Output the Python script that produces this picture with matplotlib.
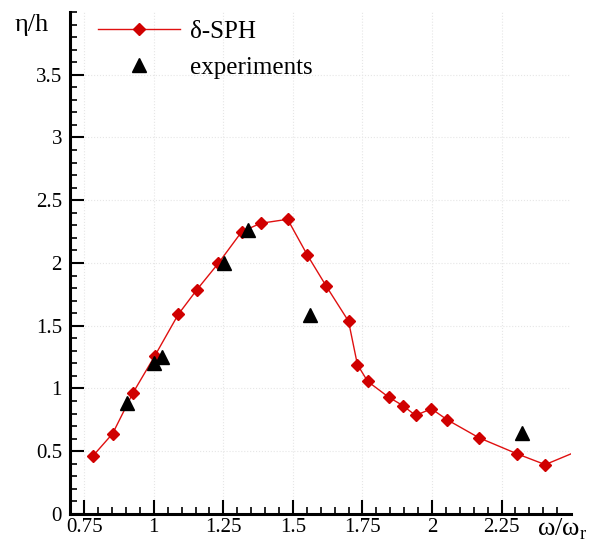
import matplotlib
matplotlib.use("Agg")
import matplotlib.pyplot as plt
import numpy as np

# delta-SPH results
sph_w = [0.78, 0.852, 0.925, 1.003, 1.088, 1.155, 1.232, 1.316, 1.384, 1.481,
         1.552, 1.62, 1.70, 1.732, 1.769, 1.844, 1.895, 1.941, 1.998, 2.055,
         2.169, 2.306, 2.407, 2.50]
sph_eta = [0.459, 0.640, 0.964, 1.257, 1.590, 1.787, 1.997, 2.249, 2.316, 2.348,
           2.063, 1.815, 1.536, 1.19, 1.056, 0.931, 0.864, 0.785, 0.838, 0.750,
           0.607, 0.479, 0.393, 0.479]

# experimental data
exp_w = [0.904, 1.001, 1.028, 1.253, 1.339, 1.563, 2.325]
exp_eta = [0.886, 1.199, 1.251, 2.0, 2.262, 1.582, 0.646]

plt.rcParams["font.family"] = ["Liberation Serif", "DejaVu Serif"]

fig = plt.figure(figsize=(5.93, 5.45), dpi=100)
ax = fig.add_axes([0.1186, 0.057, 0.8444, 0.921])

ax.plot(sph_w, sph_eta, color="#e01010", lw=1.0, marker="D", ms=6,
        mfc="#d00000", mec="#d00000", markevery=slice(0, len(sph_w) - 1),
        label="δ-SPH", zorder=3)
ax.plot(exp_w, exp_eta, ls="none", marker="^", ms=10.5, color="black",
        label="experiments", zorder=4)

ax.set_xlim(0.7, 2.5)
ax.set_ylim(0, 4)
ax.set_xticks([0.75, 1, 1.25, 1.5, 1.75, 2, 2.25])
ax.set_xticklabels(["0.75", "1", "1.25", "1.5", "1.75", "2", "2.25"])
ax.set_xticks(np.arange(0.7, 2.5, 0.05), minor=True)
ax.set_yticks([0, 0.5, 1, 1.5, 2, 2.5, 3, 3.5])
ax.set_yticklabels(["0", "0.5", "1", "1.5", "2", "2.5", "3", "3.5"])
ax.set_yticks(np.arange(0, 4.01, 0.1), minor=True)

ax.tick_params(which="major", direction="in", length=10, width=1.5, labelsize=15, pad=3)
ax.tick_params(axis="y", which="major", pad=6)
ax.tick_params(which="minor", direction="in", length=5, width=1.2)
for s in ["top", "right"]:
    ax.spines[s].set_visible(False)
for s in ["left", "bottom"]:
    ax.spines[s].set_linewidth(2.2)

ax.grid(True, which="major", ls=":", color="#e6e6e6", lw=0.8)
ax.set_axisbelow(True)

fig.text(0.025, 0.955, "η/h", fontsize=19, ha="left", va="center")
fig.text(0.905, 0.028, "ω/ω$_\\mathregular{r}$", fontsize=19, ha="left", va="center")

leg = ax.legend(loc="upper left", bbox_to_anchor=(0.055, 0.984), frameon=False,
                fontsize=18, handlelength=3.3, handletextpad=0.4, labelspacing=0.56,
                borderpad=0, borderaxespad=0)

fig.savefig("out.png", dpi=100)
